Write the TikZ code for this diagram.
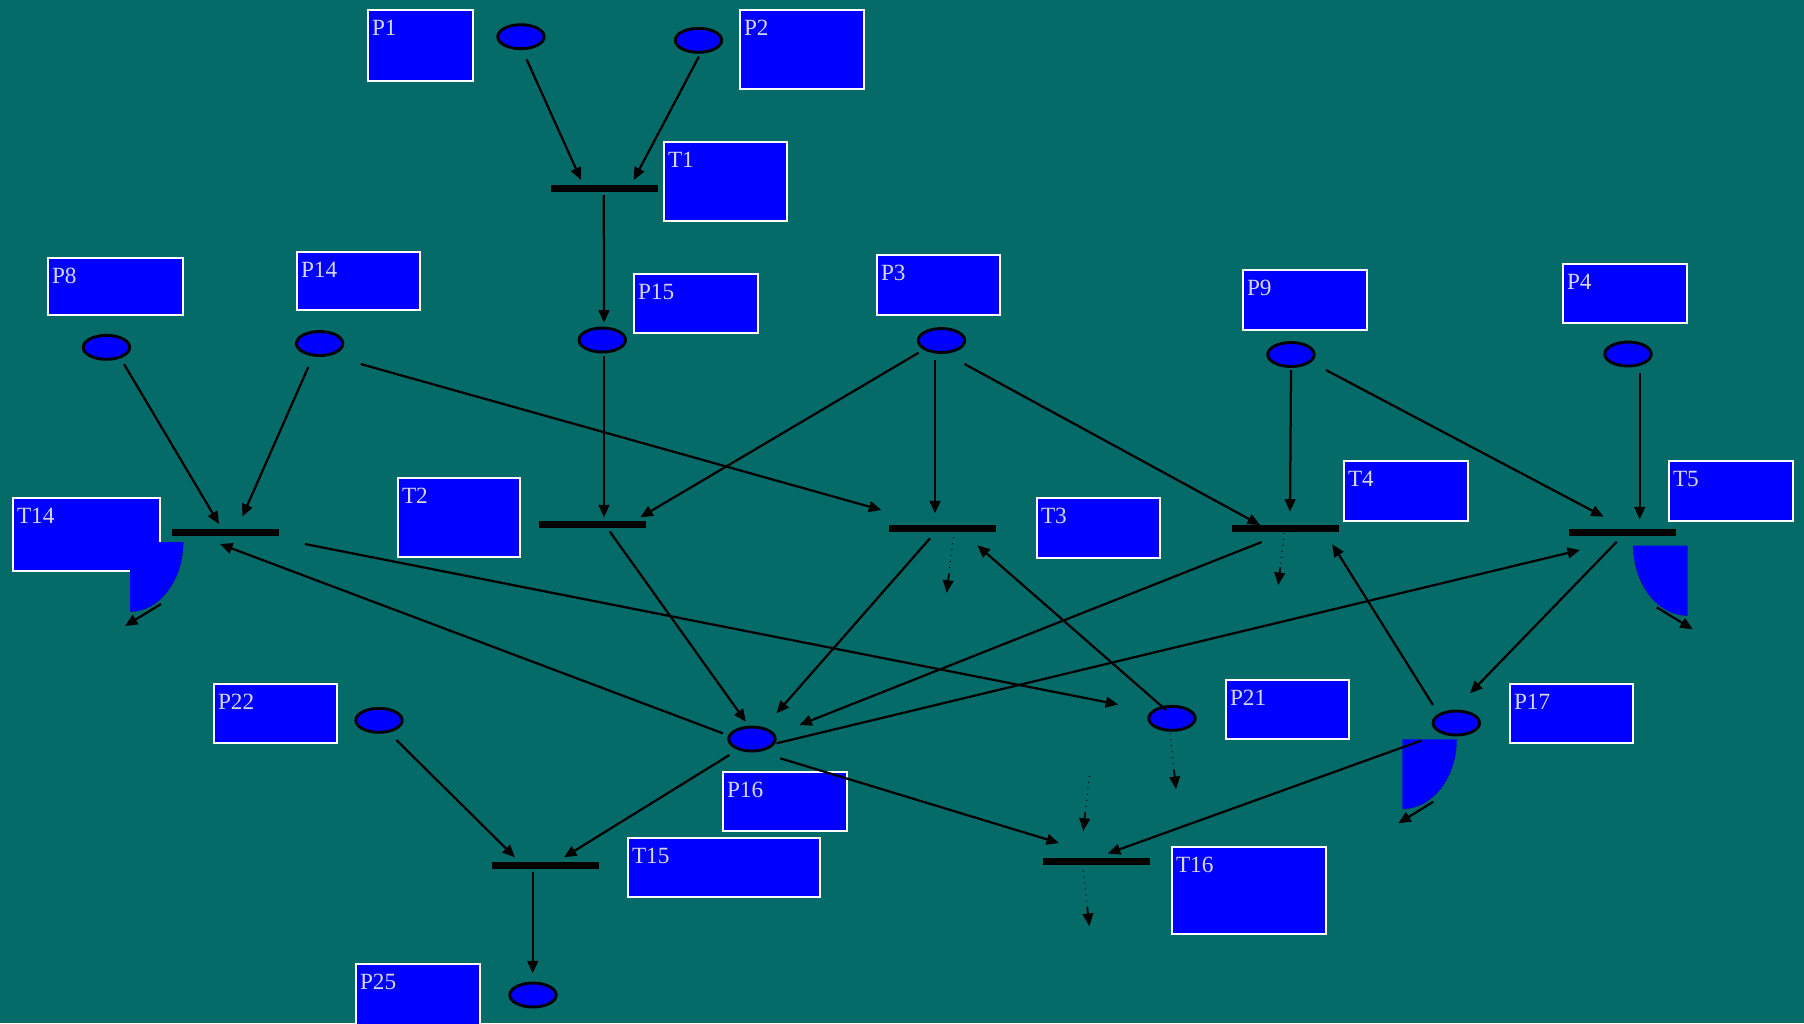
\documentclass[tikz,border=0pt]{standalone}
\usepackage{fontspec}
\setmainfont{Liberation Serif}
\usetikzlibrary{arrows.meta,shapes.geometric,calc}
\definecolor{bg}{RGB}{5,107,105}
\definecolor{bblue}{RGB}{0,0,255}
\definecolor{txt}{RGB}{215,215,228}
\tikzset{
 box/.style={draw=white,line width=0.9pt,fill=bblue,anchor=north west,inner sep=0pt,outer sep=0pt},
 lbl/.style={text=txt,font=\fontsize{9.3}{10}\selectfont,anchor=base west,inner sep=0pt},
 place/.style={ellipse,draw=black,line width=1.15pt,fill=bblue,minimum width=18.6pt,minimum height=9.6pt,inner sep=0pt},
 tbar/.style={rectangle,fill=black,minimum width=42.8pt,minimum height=2.8pt,inner sep=0pt},
 arr/.style={-{Triangle[length=5pt,width=4.3pt]},line width=0.9pt,black},
 dotline/.style={dotted,line width=0.4pt,black},
 quarter/.style={fill=bblue},
 qedge/.style={densely dotted,line width=0.3pt,black!70!blue}
}
\newcommand\mkbox[6]{%
 \node[box,minimum width={0.4pt*(#4-#2)-0.9pt},minimum height={0.4pt*(#5-#3)-0.9pt}] (#1) at (#2+1.125,#3+1.125) {};
 \node[lbl] (#1t) at (#2+4.5,#3+26.7) {#6};}
\newcommand\dotarr[2]{%
 \draw[dotline] (#1) -- (#2);
 \draw[arr,line width=0.7pt] ($(#1)!0.66!(#2)$) -- (#2);}
\begin{document}
\begin{tikzpicture}[x=0.4pt,y=-0.4pt]
\fill[bg] (0,0) rectangle (1804,1023);
\useasboundingbox (0,0) rectangle (1804,1023);
% label boxes
\mkbox{bP1}{367}{9}{474}{82}{P1}
\mkbox{bP2}{739}{9}{865}{90}{P2}
\mkbox{bT1}{663}{141}{788}{222}{T1}
\mkbox{bP8}{47}{257}{184}{316}{P8}
\mkbox{bP14}{296}{251}{421}{311}{P14}
\mkbox{bP15}{633}{273}{759}{334}{P15}
\mkbox{bP3}{876}{254}{1001}{316}{P3}
\mkbox{bP9}{1242}{269}{1368}{331}{P9}
\mkbox{bP4}{1562}{263}{1688}{324}{P4}
\mkbox{bT14}{12}{497}{161}{572}{T14}
\mkbox{bT2}{397}{477}{521}{558}{T2}
\mkbox{bT3}{1036}{497}{1161}{559}{T3}
\mkbox{bT4}{1343}{460}{1469}{522}{T4}
\mkbox{bT5}{1668}{460}{1794}{522}{T5}
\mkbox{bP22}{213}{683}{338}{744}{P22}
\mkbox{bP21}{1225}{679}{1350}{740}{P21}
\mkbox{bP17}{1509}{683}{1634}{744}{P17}
\mkbox{bP16}{722}{771}{848}{832}{P16}
\mkbox{bT15}{627}{837}{821}{898}{T15}
\mkbox{bT16}{1171}{846}{1327}{935}{T16}
\mkbox{bP25}{355}{963}{481}{1045}{P25}
% quarter shapes
\coordinate (q14) at (130,542);
\coordinate (q5) at (1687.7,545.7);
\coordinate (q17) at (1402.3,739.3);
\fill[quarter] (130,542) -- (183.3,542) .. controls (183.3,580.5) and (159.4,611.7) .. (130,611.7) -- cycle;
\draw[qedge] (183.3,542) .. controls (183.3,580.5) and (159.4,611.7) .. (130,611.7);
\fill[quarter] (1687.7,545.7) -- (1633.3,545.7) .. controls (1633.3,584.4) and (1657.7,615.7) .. (1687.7,615.7) -- cycle;
\draw[qedge] (1633.3,545.7) .. controls (1633.3,584.4) and (1657.7,615.7) .. (1687.7,615.7);
\fill[quarter] (1402.3,739.3) -- (1456.7,739.3) .. controls (1456.7,777.8) and (1432.3,809) .. (1402.3,809) -- cycle;
\draw[qedge] (1456.7,739.3) .. controls (1456.7,777.8) and (1432.3,809) .. (1402.3,809);
% places
\node[place] (e1) at (521,36.7) {};
\node[place] (e2) at (698.5,40.3) {};
\node[place] (e8) at (106.5,347.3) {};
\node[place] (e14) at (319.7,343.5) {};
\node[place] (e15) at (602.3,340) {};
\node[place] (e3) at (941.5,340.5) {};
\node[place] (e9) at (1291,354.5) {};
\node[place] (e4) at (1628,354) {};
\node[place] (e22) at (379,720.3) {};
\node[place] (e16) at (752,739) {};
\node[place] (e21) at (1172,718.3) {};
\node[place] (e17) at (1456.3,723) {};
\node[place] (e25) at (533,995) {};
% transitions
\node[tbar] (t1) at (604.5,188.7) {};
\node[tbar] (t14) at (225.8,532.2) {};
\node[tbar] (t2) at (592.9,524.7) {};
\node[tbar] (t3) at (942.2,528.5) {};
\node[tbar] (t4) at (1285.2,528.5) {};
\node[tbar] (t5) at (1622.8,532) {};
\node[tbar] (t15) at (545.5,865) {};
\node[tbar] (t16) at (1096,861.2) {};
% arcs
\draw[arr] ([shift={(5.6,22.6)}]e1.center) -- ([shift={(-23.5,-8.7)}]t1.center);
\draw[arr] ([shift={(0.3,16.4)}]e2.center) -- ([shift={(29.2,-8.7)}]t1.center);
\draw[arr] ([shift={(-0.7,6.3)}]t1.center) -- ([shift={(1.7,-17.3)}]e15.center);
\draw[arr] ([shift={(1.7,16)}]e15.center) -- ([shift={(11.1,-7.4)}]t2.center);
\draw[arr] ([shift={(-22.9,12.2)}]e3.center) -- ([shift={(47.4,-7.4)}]t2.center);
\draw[arr] ([shift={(41,20.5)}]e14.center) -- ([shift={(-60.8,-18.5)}]t3.center);
\draw[arr] ([shift={(-6.5,19.5)}]e3.center) -- ([shift={(-7.2,-15.2)}]t3.center);
\draw[arr] ([shift={(23,23.5)}]e3.center) -- ([shift={(-25.2,-3.5)}]t4.center);
\draw[arr] ([shift={(0,15.5)}]e9.center) -- ([shift={(4.8,-16.8)}]t4.center);
\draw[arr] ([shift={(34.9,15.5)}]e9.center) -- ([shift={(-19.2,-15.3)}]t5.center);
\draw[arr] ([shift={(11.7,19.3)}]e4.center) -- ([shift={(16.9,-12.7)}]t5.center);
\draw[arr] ([shift={(17.5,16.7)}]e8.center) -- ([shift={(-6.8,-8.2)}]t14.center);
\draw[arr] ([shift={(-11.4,23.5)}]e14.center) -- ([shift={(16.5,-15.5)}]t14.center);
\draw[arr] ([shift={(-29.1,-5.7)}]e16.center) -- ([shift={(-5.8,11.8)}]t14.center);
\draw[arr] ([shift={(79.2,11.8)}]t14.center) -- ([shift={(-53.8,-13.8)}]e21.center);
\draw[arr] ([shift={(16.9,6.8)}]t2.center) -- ([shift={(-6.2,-17.3)}]e16.center);
\draw[arr] ([shift={(-12.2,9.8)}]t3.center) -- ([shift={(24.5,-25.7)}]e16.center);
\draw[arr] ([shift={(-6,-8.3)}]e21.center) -- ([shift={(35.1,16.8)}]t3.center);
\draw[arr] ([shift={(-23.5,13.5)}]t4.center) -- ([shift={(47.4,-14)}]e16.center);
\draw[arr] ([shift={(24.5,4.3)}]e16.center) -- ([shift={(-42.8,18)}]t5.center);
\draw[arr] ([shift={(-6.1,9.7)}]t5.center) -- ([shift={(13.7,-29.7)}]e17.center);
\draw[arr] ([shift={(-23.3,-18)}]e17.center) -- ([shift={(47.1,15.7)}]t4.center);
\draw[arr] ([shift={(-22.6,16)}]e16.center) -- ([shift={(18.5,-7.7)}]t15.center);
\draw[arr] ([shift={(17.4,19.7)}]e22.center) -- ([shift={(-30.5,-7.7)}]t15.center);
\draw[arr] ([shift={(28.3,19.3)}]e16.center) -- ([shift={(-37,-18.2)}]t16.center);
\draw[arr] ([shift={(-34.8,17.5)}]e17.center) -- ([shift={(11.8,-7.7)}]t16.center);
\draw[arr] ([shift={(-12.8,6.7)}]t15.center) -- ([shift={(-0.3,-21.7)}]e25.center);
% dotted stubs
\coordinate (d3a) at ([shift={(11.1,8.8)}]t3.center);
\coordinate (d3b) at (946.7,592.7);
\coordinate (d4a) at ([shift={(-0.9,4.5)}]t4.center);
\coordinate (d4b) at (1278.3,585);
\coordinate (d21a) at ([shift={(-2,15)}]e21.center);
\coordinate (d21b) at (1176,789);
\coordinate (d16a) at (1089.3,776);
\coordinate (d16b) at ([shift={(-12.7,-30.5)}]t16.center);
\coordinate (d16c) at ([shift={(-12.7,9.5)}]t16.center);
\coordinate (d16d) at (1089.3,926);
\dotarr{d3a}{d3b}
\dotarr{d4a}{d4b}
\dotarr{d21a}{d21b}
\dotarr{d16a}{d16b}
\dotarr{d16c}{d16d}
% quarter arrows
\coordinate (a14) at (125,626);
\coordinate (a5) at (1692.7,629.3);
\coordinate (a17) at (1398.3,823.3);
\draw[arr] ([shift={(31,62)}]q14) -- (a14);
\draw[arr] ([shift={(-31,61.6)}]q5) -- (a5);
\draw[arr] ([shift={(31,62.4)}]q17) -- (a17);
\end{tikzpicture}
\end{document}
